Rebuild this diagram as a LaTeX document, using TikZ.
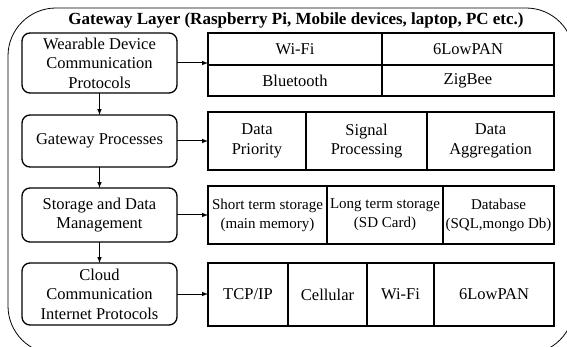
\documentclass[tikz,border=0pt]{standalone}
\usepackage{fontspec}
\setmainfont{Liberation Serif}
\usetikzlibrary{arrows,positioning}

\begin{document}
\begin{tikzpicture}[x=1pt,y=-1pt,>=latex,line width=1.3pt,
  every node/.style={font=\fontsize{16.5}{19.5}\selectfont,align=center,inner sep=0pt,outer sep=0pt},
  stepbox/.style={draw,rounded corners=8pt,minimum width=155pt},
  cell/.style={draw,line width=1.5pt},
  small/.style={font=\fontsize{15}{19}\selectfont},
  link/.style={->,line width=1pt}]
  \useasboundingbox (0,0) rectangle (567,347);
  \begin{scope}
    \clip (0,0) rectangle (567,347);
    \draw[line width=0.8pt,rounded corners=48pt] (8,8) rectangle (574,354);
  \end{scope}
  \node[font=\fontsize{17}{20}\selectfont\bfseries] (title) at (296,20) {Gateway Layer (Raspberry Pi, Mobile devices, laptop, PC etc.)};
  % left column
  \node[stepbox,minimum height=60pt] (wdcp) at (99.5,63) {Wearable Device\\Communication\\Protocols};
  \node[stepbox,minimum height=52pt] (gp) at (99.5,141) {Gateway Processes};
  \node[stepbox,minimum height=54pt] (sdm) at (99.5,215) {Storage and Data\\Management};
  \node[stepbox,minimum height=62pt] (ccip) at (99.5,294) {Cloud\\Communication\\Internet Protocols};
  % device protocols
  \node[cell,minimum width=174pt,minimum height=32pt,anchor=north west] (wifi) at (208,33) {Wi-Fi};
  \node[cell,minimum width=172pt,minimum height=32pt,right=0pt of wifi] (lowpan) {6LowPAN};
  \node[cell,minimum width=174pt,minimum height=31pt,below=0pt of wifi] (bt) {Bluetooth};
  \node[cell,minimum width=172pt,minimum height=31pt,right=0pt of bt] (zigbee) {ZigBee};
  % processes
  \node[cell,minimum width=98pt,minimum height=58pt,anchor=north west] (dp) at (208,112) {Data\\Priority};
  \node[cell,minimum width=121pt,minimum height=58pt,right=0pt of dp] (sp) {Signal\\Processing};
  \node[cell,minimum width=127pt,minimum height=58pt,right=0pt of sp] (da) {Data\\Aggregation};
  % storage
  \node[cell,small,minimum width=119pt,minimum height=58pt,anchor=north west] (sts) at (208,186) {Short term storage\\(main memory)};
  \node[cell,small,minimum width=116pt,minimum height=58pt,right=0pt of sts] (lts) {Long term storage\\(SD Card)};
  \node[cell,small,minimum width=111pt,minimum height=58pt,right=0pt of lts] (db) {Database\\(SQL,mongo Db)};
  % internet protocols
  \node[cell,minimum width=80pt,minimum height=63pt,anchor=north west] (tcp) at (208,263) {TCP/IP};
  \node[cell,minimum width=79pt,minimum height=63pt,right=0pt of tcp] (cell) {Cellular};
  \node[cell,minimum width=67pt,minimum height=63pt,right=0pt of cell] (wifii) {Wi-Fi};
  \node[cell,minimum width=120pt,minimum height=63pt,right=0pt of wifii] (lowpanii) {6LowPAN};
  % arrows
  \draw[link] (wdcp) -- (gp);
  \draw[link] (gp) -- (sdm);
  \draw[link] (sdm) -- (ccip);
  \draw[link] (wdcp.east) -- (wdcp.east -| wifi.west);
  \draw[link] (gp.east) -- (gp.east -| dp.west);
  \draw[link] (sdm.east) -- (sdm.east -| sts.west);
  \draw[link] (ccip.east) -- (ccip.east -| tcp.west);
\end{tikzpicture}
\end{document}
